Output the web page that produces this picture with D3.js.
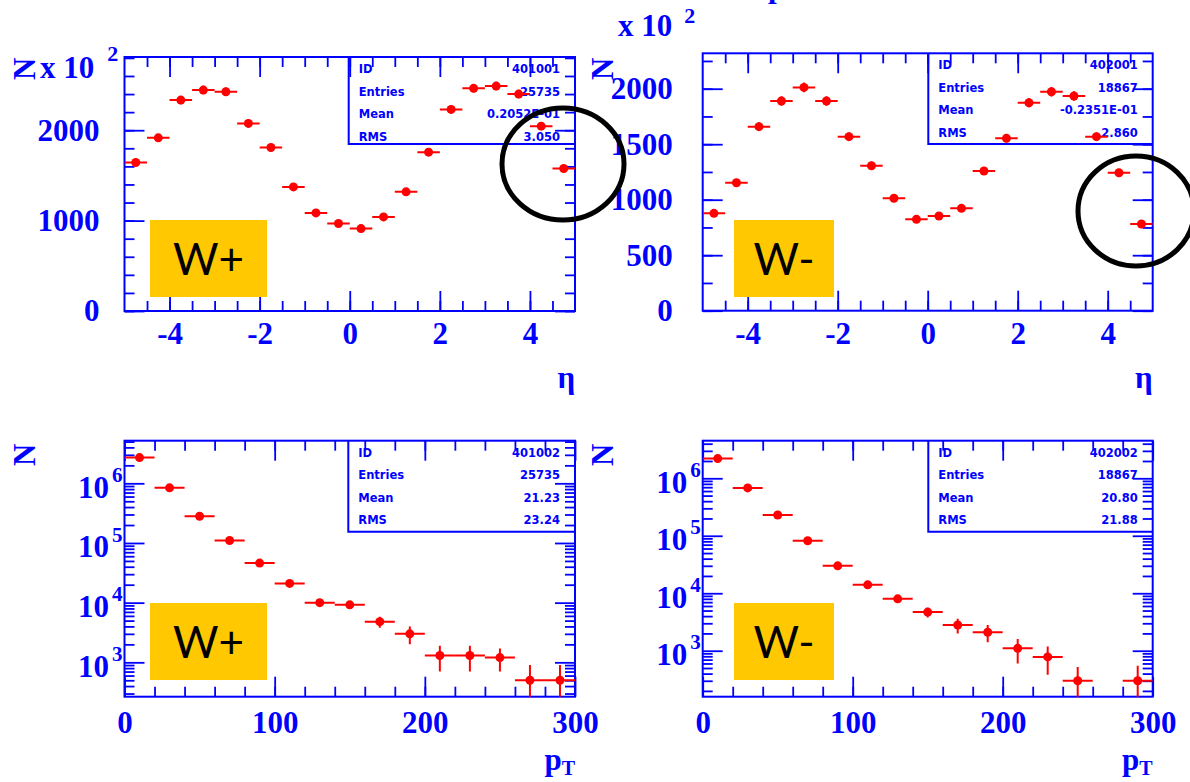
<!DOCTYPE html>
<html>
<head>
<meta charset="utf-8">
<title>W+ / W- eta and pT</title>
<script src="https://d3js.org/d3.v7.min.js"></script>
<style>
body { margin:0; background:#fff; }
svg text { font-family: "Liberation Serif", "DejaVu Serif", serif; font-weight: bold; fill: #0000ff; }
</style>
</head>
<body>
<svg width="1190" height="782"></svg>
<script>

// ---- data ----
var etaBins = [-4.75,-4.25,-3.75,-3.25,-2.75,-2.25,-1.75,-1.25,-0.75,-0.25,0.25,0.75,1.25,1.75,2.25,2.75,3.25,3.75,4.25,4.75];
var wPlusEta    = [1643,1916,2333,2444,2425,2075,1809,1373,1085,968,912,1041,1318,1757,2230,2463,2488,2400,2045,1577];
var wPlusEtaErr = [40,42,46,47,47,44,41,36,32,30,29,31,35,40,45,47,47,47,43,38];
var wMinusEta    = [877,1153,1658,1889,2012,1889,1568,1306,1013,823,853,922,1259,1553,1874,1973,1934,1568,1243,781];
var wMinusEtaErr = [28,32,39,42,43,42,38,35,30,27,28,29,34,38,42,43,42,38,34,27];

var ptBins = [10,30,50,70,90,110,130,150,170,190,210,230,250,270,290];
var wPlusPt    = [2700000,840000,280000,110000,46000,21000,10000,9200,4800,3000,1300,1300,1200,500,500];
var wPlusPtErr = [20000,12000,7000,4500,3000,2000,1300,1300,1000,1000,600,600,500,400,400];
var wMinusPt    = [2200000,680000,230000,82000,30000,14000,8000,4700,2800,2100,1100,780,300,null,300];
var wMinusPtErr = [18000,10000,6000,3800,2400,1600,1200,900,800,700,500,400,220,null,250];

var etaTicks = [-4,-2,0,2,4];
var ptTicks = [0,100,200,300];
var statLabels = ["ID","Entries","Mean","RMS"];
var statsPlusEta  = ["401001","25735","0.2052E-01","3.050"];
var statsMinusEta = ["402001","18867","-0.2351E-01","2.860"];
var statsPlusPt   = ["401002","25735","21.23","23.24"];
var statsMinusPt  = ["402002","18867","20.80","21.88"];

var blue = "#0000ff", red = "#ff0000";
var svg = d3.select("svg");

var panels = [
  {id:"tl", x0:124.5, x1:575, y0:57, y1:311, xDom:[-5,5], xMajor:etaTicks, xMinor:d3.range(-4.5,5,0.5),
   log:false, yDom:[0,2810], yMajor:[0,1000,2000], yMinor:d3.range(0,2810,200), yPad:25, xPad:11,
   bins:etaBins, half:0.25, vals:wPlusEta, errs:wPlusEtaErr, stats:statsPlusEta, box:348.7, boxB:144,
   tag:"W+", tagX:150, tagW:117, tagY:220, xTitle:"eta"},
  {id:"tr", x0:702.7, x1:1152.7, y0:53.3, y1:310.7, xDom:[-5,5], xMajor:etaTicks, xMinor:d3.range(-4.5,5,0.5),
   log:false, yDom:[0,2319], yMajor:[0,500,1000,1500,2000], yMinor:d3.range(0,2319,250), yPad:30, xPad:11,
   bins:etaBins, half:0.25, vals:wMinusEta, errs:wMinusEtaErr, stats:statsMinusEta, box:928.3, boxB:144,
   tag:"W-", tagX:734, tagW:100, tagY:220, xTitle:"eta"},
  {id:"bl", x0:124.5, x1:575, y0:440.7, y1:696.7, xDom:[0,300], xMajor:ptTicks, xMinor:d3.range(20,300,20),
   log:true, yDom:[Math.pow(10,2.424),Math.pow(10,6.714)], yMajor:[1e3,1e4,1e5,1e6], yPad:2, xPad:14,
   bins:ptBins, half:10, vals:wPlusPt, errs:wPlusPtErr, stats:statsPlusPt, box:348.3, boxB:531.7,
   tag:"W+", tagX:150, tagW:117, tagY:603, xTitle:"pt"},
  {id:"br", x0:702.7, x1:1152.7, y0:440.7, y1:696.7, xDom:[0,300], xMajor:ptTicks, xMinor:d3.range(20,300,20),
   log:true, yDom:[Math.pow(10,2.2),Math.pow(10,6.654)], yMajor:[1e3,1e4,1e5,1e6], yPad:2, xPad:14,
   bins:ptBins, half:10, vals:wMinusPt, errs:wMinusPtErr, stats:statsMinusPt, box:928.3, boxB:531.7,
   tag:"W-", tagX:734, tagW:100, tagY:603, xTitle:"pt"}
];

function styleAxis(g) {
  g.select(".domain").remove();
  g.selectAll(".tick line").attr("stroke", blue).attr("stroke-width", 1.8);
  g.selectAll(".tick text").attr("fill", blue).attr("font-size", 31)
    .attr("font-family", null);
}

panels.forEach(function(p) {
  var x = d3.scaleLinear().domain(p.xDom).range([p.x0, p.x1]);
  var y = p.log ? d3.scaleLog().domain(p.yDom).range([p.y1, p.y0])
                : d3.scaleLinear().domain(p.yDom).range([p.y1, p.y0]);
  var g = svg.append("g").attr("class", "panel " + p.id);

  // clip for error bars
  svg.append("clipPath").attr("id", "clip-" + p.id)
    .append("rect").attr("x", p.x0).attr("y", p.y0)
    .attr("width", p.x1 - p.x0).attr("height", p.y1 - p.y0);

  // stat box
  g.append("path")
    .attr("d", "M" + p.box + "," + p.y0 + "V" + p.boxB + "H" + p.x1)
    .attr("fill", "none").attr("stroke", blue).attr("stroke-width", 2);
  statLabels.forEach(function(l, i) {
    var yy = p.y0 + 12 + i * 22.5;
    g.append("text").attr("x", p.box + 10).attr("y", yy).attr("dy", "0.35em")
      .style("font-family", "DejaVu Sans").attr("font-size", 11.5).text(l);
    g.append("text").attr("x", p.x1 - 15).attr("y", yy).attr("dy", "0.35em")
      .attr("text-anchor", "end")
      .style("font-family", "DejaVu Sans").attr("font-size", 11.5).text(p.stats[i]);
  });

  // x axes (bottom with labels, top mirrored)
  g.append("g").attr("transform", "translate(0," + p.y1 + ")")
    .call(d3.axisBottom(x).tickValues(p.xMajor).tickSize(-20).tickPadding(p.xPad).tickFormat(function(d){ return String(d); }))
    .call(styleAxis);
  g.append("g").attr("transform", "translate(0," + p.y1 + ")")
    .call(d3.axisBottom(x).tickValues(p.xMinor).tickSize(-10).tickFormat(""))
    .call(styleAxis);
  g.append("g").attr("transform", "translate(0," + p.y0 + ")")
    .call(d3.axisTop(x).tickValues(p.xMajor).tickSize(-20).tickFormat(""))
    .call(styleAxis);
  g.append("g").attr("transform", "translate(0," + p.y0 + ")")
    .call(d3.axisTop(x).tickValues(p.xMinor).tickSize(-10).tickFormat(""))
    .call(styleAxis);

  // y axes
  var yMinor;
  if (p.log) {
    yMinor = [];
    [100,1000,10000,100000,1000000].forEach(function(dec) {
      for (var k = 2; k <= 9; k++) {
        var v = dec * k;
        if (v > p.yDom[0] && v < p.yDom[1]) yMinor.push(v);
      }
    });
  } else {
    yMinor = p.yMinor;
  }
  var left = g.append("g").attr("transform", "translate(" + p.x0 + ",0)")
    .call(d3.axisLeft(y).tickValues(p.yMajor).tickSize(-20).tickPadding(p.yPad)
      .tickFormat(function(d){ return p.log ? "10" : String(d); }))
    .call(styleAxis);
  if (p.log) {
    left.selectAll(".tick text").attr("dy", "0.45em")
      .append("tspan").attr("dy", "-0.75em").attr("dx", 3).attr("font-size", 21)
      .text(function(d){ return String(Math.round(Math.log10(d))); });
  }
  g.append("g").attr("transform", "translate(" + p.x0 + ",0)")
    .call(d3.axisLeft(y).tickValues(yMinor).tickSize(-10).tickFormat(""))
    .call(styleAxis);
  g.append("g").attr("transform", "translate(" + p.x1 + ",0)")
    .call(d3.axisRight(y).tickValues(p.yMajor).tickSize(-20).tickFormat(""))
    .call(styleAxis);
  g.append("g").attr("transform", "translate(" + p.x1 + ",0)")
    .call(d3.axisRight(y).tickValues(yMinor).tickSize(-10).tickFormat(""))
    .call(styleAxis);

  // frame
  g.append("rect").attr("x", p.x0).attr("y", p.y0)
    .attr("width", p.x1 - p.x0).attr("height", p.y1 - p.y0)
    .attr("fill", "none").attr("stroke", blue).attr("stroke-width", 2);

  // data points with error bars
  var pts = p.bins.map(function(b, i) { return {b:b, v:p.vals[i], e:p.errs[i]}; })
    .filter(function(d) { return d.v != null; });
  var dg = g.append("g").attr("clip-path", "url(#clip-" + p.id + ")");
  dg.selectAll(".hbar").data(pts).enter().append("line")
    .attr("x1", function(d){ return x(d.b - p.half); })
    .attr("x2", function(d){ return x(d.b + p.half); })
    .attr("y1", function(d){ return y(d.v); })
    .attr("y2", function(d){ return y(d.v); })
    .attr("stroke", red).attr("stroke-width", 2);
  dg.selectAll(".vbar").data(pts).enter().append("line")
    .attr("x1", function(d){ return x(d.b); })
    .attr("x2", function(d){ return x(d.b); })
    .attr("y1", function(d){ return y(d.v + d.e); })
    .attr("y2", function(d){
      var lo = d.v - d.e;
      return (lo <= p.yDom[0]) ? p.y1 + 2 : y(lo);
    })
    .attr("stroke", red).attr("stroke-width", 2);
  dg.selectAll(".dot").data(pts).enter().append("circle")
    .attr("cx", function(d){ return x(d.b); })
    .attr("cy", function(d){ return y(d.v); })
    .attr("r", 4.5).attr("fill", red);

  // yellow tag
  g.append("rect").attr("x", p.tagX).attr("y", p.tagY)
    .attr("width", p.tagW).attr("height", 77).attr("fill", "#ffc800");
  g.append("text").attr("x", p.tagX + p.tagW / 2).attr("y", p.tagY + 39).attr("dy", "0.36em")
    .attr("text-anchor", "middle")
    .style("font-family", "Lato, 'Open Sans', sans-serif").style("font-weight", "normal")
    .style("fill", "#000").attr("font-size", 44).text(p.tag);

  // x title
  if (p.xTitle == "eta") {
    g.append("text").attr("x", p.x1).attr("y", p.y1 + 77).attr("text-anchor", "end")
      .attr("font-size", 31).text("\u03b7");
  } else {
    var t = g.append("text").attr("x", p.x1).attr("y", p.y1 + 73).attr("text-anchor", "end")
      .attr("font-size", 31);
    t.append("tspan").text("p");
    t.append("tspan").attr("dy", 5).attr("font-size", 20).text("T");
  }
});

// y titles ("N" rotated) and exponent labels
function yTitle(xp, yp) {
  svg.append("text").attr("transform", "translate(" + xp + "," + yp + ") rotate(-90)")
    .attr("font-size", 31).text("N");
}
yTitle(35, 80);
yTitle(613, 80);
yTitle(35, 466);
yTitle(613, 466);

function expLabel(xp, yp, gap, rise) {
  var t = svg.append("text").attr("x", xp).attr("y", yp).attr("font-size", 31);
  t.append("tspan").text("x 10");
  t.append("tspan").attr("dx", gap).attr("dy", -rise).attr("font-size", 22).text("2");
}
expLabel(40, 78, 13, 17);
expLabel(618, 36, 12, 13);

// cut-off title glyph at the very top
svg.append("text").attr("x", 768).attr("y", -3).attr("font-size", 31).text("p");

// hand-drawn circles around the last eta bins
svg.append("ellipse").attr("cx", 563).attr("cy", 164).attr("rx", 61).attr("ry", 56)
  .attr("fill", "none").attr("stroke", "#000").attr("stroke-width", 5);
svg.append("ellipse").attr("cx", 1136).attr("cy", 211).attr("rx", 58).attr("ry", 55)
  .attr("fill", "none").attr("stroke", "#000").attr("stroke-width", 5);

</script>
</body>
</html>
